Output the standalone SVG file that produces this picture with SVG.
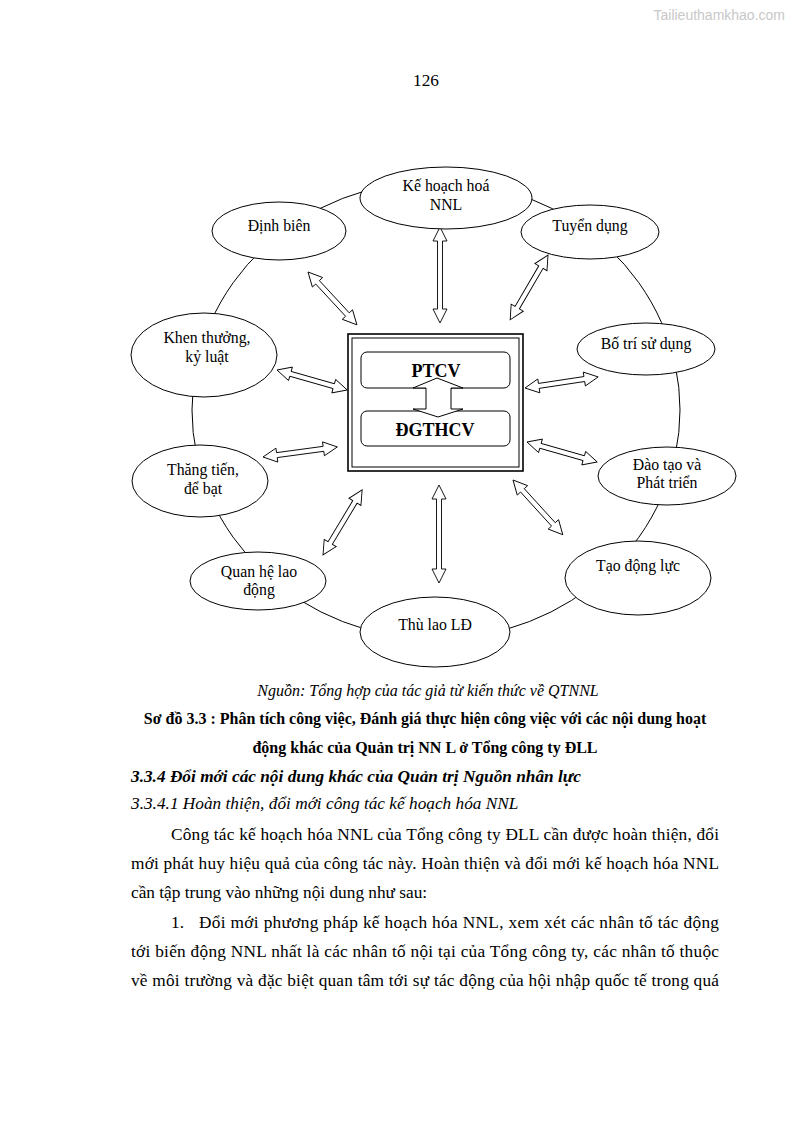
<svg xmlns="http://www.w3.org/2000/svg" width="794" height="1123" viewBox="0 0 794 1123">
<style>
.bg{fill:#fff}
.node{fill:#fff;stroke:#000;stroke-width:1}
.ring{fill:none;stroke:#000;stroke-width:1}
.arr{fill:#fff;stroke:#000;stroke-width:0.9;stroke-linejoin:miter}
.nt{font-family:"Liberation Serif","Times New Roman",serif;font-size:15.8px;fill:#000;text-anchor:middle}
.bt{font-family:"Liberation Serif","Times New Roman",serif;font-size:18px;font-weight:bold;fill:#000;text-anchor:middle}
.body{font-family:"Liberation Serif","Times New Roman",serif;font-size:17.3px;fill:#000}
.cap{font-family:"Liberation Serif","Times New Roman",serif;font-size:16px;fill:#000;text-anchor:middle}
.wm{font-family:"Liberation Sans",Arial,sans-serif;font-size:14px;fill:#c8c8c8}
</style>
<rect class="bg" x="0" y="0" width="794" height="1123"/>
<text class="wm" x="785" y="20" text-anchor="end">Tailieuthamkhao.com</text>
<text class="body" x="426" y="86" text-anchor="middle">126</text>

<ellipse class="ring" cx="436" cy="410" rx="244" ry="229"/>

<g id="connectors">
<polygon class="arr" transform="translate(440,227) rotate(90)" points="0,0 14,-7 14,-2.5 82,-2.5 82,-7 96,0 82,7 82,2.5 14,2.5 14,7"/>
<polygon class="arr" transform="translate(308,272) rotate(47.2)" points="0,0 14,-7 14,-2.5 58,-2.5 58,-7 72,0 58,7 58,2.5 14,2.5 14,7"/>
<polygon class="arr" transform="translate(548,255) rotate(120.3)" points="0,0 14,-7 14,-2.5 61,-2.5 61,-7 75,0 61,7 61,2.5 14,2.5 14,7"/>
<polygon class="arr" transform="translate(277,370) rotate(15.9)" points="0,0 14,-7 14,-2.5 59,-2.5 59,-7 73,0 59,7 59,2.5 14,2.5 14,7"/>
<polygon class="arr" transform="translate(263,457) rotate(-7.7)" points="0,0 14,-7 14,-2.5 61,-2.5 61,-7 75,0 61,7 61,2.5 14,2.5 14,7"/>
<polygon class="arr" transform="translate(323,555) rotate(-59)" points="0,0 14,-7 14,-2.5 62,-2.5 62,-7 76,0 62,7 62,2.5 14,2.5 14,7"/>
<polygon class="arr" transform="translate(439,485) rotate(90)" points="0,0 14,-7 14,-2.5 84,-2.5 84,-7 98,0 84,7 84,2.5 14,2.5 14,7"/>
<polygon class="arr" transform="translate(513,480) rotate(47.7)" points="0,0 14,-7 14,-2.5 60,-2.5 60,-7 74,0 60,7 60,2.5 14,2.5 14,7"/>
<polygon class="arr" transform="translate(525,388) rotate(-8.6)" points="0,0 14,-7 14,-2.5 60,-2.5 60,-7 74,0 60,7 60,2.5 14,2.5 14,7"/>
<polygon class="arr" transform="translate(527,442) rotate(15.9)" points="0,0 14,-7 14,-2.5 59,-2.5 59,-7 73,0 59,7 59,2.5 14,2.5 14,7"/>
</g>

<g id="n-kehoach">
<ellipse class="node" cx="446" cy="198" rx="86" ry="31"/>
<text class="nt" x="446" y="191">Kế hoạch hoá</text>
<text class="nt" x="446" y="210">NNL</text>
</g>
<g id="n-dinhbien">
<ellipse class="node" cx="279" cy="231" rx="67" ry="29"/>
<text class="nt" x="279" y="231">Định biên</text>
</g>
<g id="n-tuyendung">
<ellipse class="node" cx="590" cy="232" rx="69" ry="27"/>
<text class="nt" x="590" y="231">Tuyển dụng</text>
</g>
<g id="n-khenthuong">
<ellipse class="node" cx="204" cy="355" rx="73" ry="42"/>
<text class="nt" x="207" y="343">Khen thưởng,</text>
<text class="nt" x="207" y="362">kỷ luật</text>
</g>
<g id="n-botri">
<ellipse class="node" cx="646" cy="349" rx="69" ry="26"/>
<text class="nt" x="646" y="349">Bố trí sử dụng</text>
</g>
<g id="n-thangtien">
<ellipse class="node" cx="200" cy="481" rx="68" ry="36"/>
<text class="nt" x="203" y="475">Thăng tiến,</text>
<text class="nt" x="203" y="494">để bạt</text>
</g>
<g id="n-daotao">
<ellipse class="node" cx="667" cy="476" rx="69" ry="29"/>
<text class="nt" x="667" y="470">Đào tạo và</text>
<text class="nt" x="667" y="488">Phát triển</text>
</g>
<g id="n-quanhe">
<ellipse class="node" cx="258" cy="581" rx="68" ry="29"/>
<text class="nt" x="259" y="577">Quan hệ lao</text>
<text class="nt" x="259" y="595">động</text>
</g>
<g id="n-thulao">
<ellipse class="node" cx="435" cy="632" rx="75" ry="35"/>
<text class="nt" x="435" y="630">Thù lao LĐ</text>
</g>
<g id="n-taodongluc">
<ellipse class="node" cx="638" cy="578" rx="73" ry="37"/>
<text class="nt" x="638" y="571">Tạo động lực</text>
</g>

<g id="n-center">
<rect x="348" y="334" width="175" height="137" fill="#fff" stroke="#000" stroke-width="1.6"/>
<rect x="352" y="338" width="167" height="129" fill="none" stroke="#000" stroke-width="1"/>
<rect x="361" y="352" width="149" height="36" rx="6" fill="#fff" stroke="#000" stroke-width="1"/>
<rect x="361" y="411" width="149" height="35" rx="6" fill="#fff" stroke="#000" stroke-width="1"/>
<polygon points="437,378 463,388 451,388 451,409 463,409 438,417 413,409 426,409 426,388 413,388" fill="#fff" stroke="#000" stroke-width="1"/>
<text class="bt" x="436" y="377">PTCV</text>
<text class="bt" x="435" y="436">ĐGTHCV</text>
</g>

<text class="cap" x="428" y="696" font-style="italic">Nguồn: Tổng hợp của tác giả từ kiến thức về QTNNL</text>
<text class="cap" x="425" y="724" font-weight="bold">Sơ đồ 3.3 : Phân tích công việc, Đánh giá thực hiện công việc với các nội dung hoạt</text>
<text class="cap" x="425" y="753" font-weight="bold">động khác của Quản trị NN L ở Tổng công ty ĐLL</text>
<text class="body" x="131" y="782" font-weight="bold" font-style="italic">3.3.4 Đổi mới các nội dung khác của Quản trị Nguồn nhân lực</text>
<text class="body" x="131" y="809" font-style="italic">3.3.4.1 Hoàn thiện, đổi mới công tác kế hoạch hóa NNL</text>
<text class="body" x="171" y="840" textLength="548" lengthAdjust="spacing">Công tác kế hoạch hóa NNL của Tổng công ty ĐLL cần được hoàn thiện, đổi</text>
<text class="body" x="131" y="869" textLength="588" lengthAdjust="spacing">mới phát huy hiệu quả của công tác này. Hoàn thiện và đổi mới kế hoạch hóa NNL</text>
<text class="body" x="131" y="898">cần tập trung vào những nội dung như sau:</text>
<text class="body" x="171" y="928">1.</text>
<text class="body" x="199" y="928" textLength="520" lengthAdjust="spacing">Đổi mới phương pháp kế hoạch hóa NNL, xem xét các nhân tố tác động</text>
<text class="body" x="131" y="957" textLength="588" lengthAdjust="spacing">tới biến động NNL nhất là các nhân tố nội tại của Tổng công ty, các nhân tố thuộc</text>
<text class="body" x="131" y="986" textLength="588" lengthAdjust="spacing">về môi trường và đặc biệt quan tâm tới sự tác động của hội nhập quốc tế trong quá</text>
</svg>
